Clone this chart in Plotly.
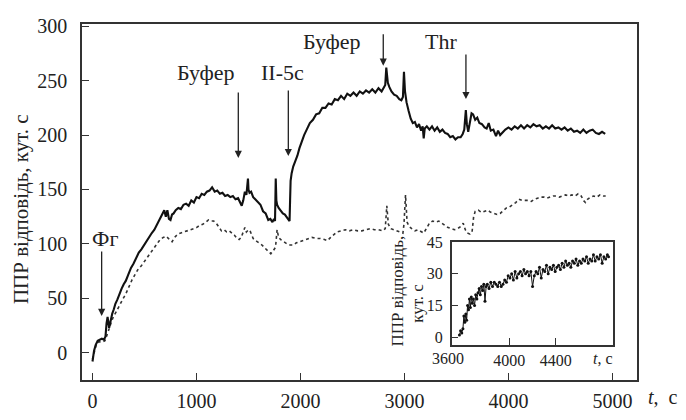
import plotly.graph_objects as go

# ---- main trace (solid) ----
t_solid = [0, 15, 30, 50, 70, 90, 110, 125, 135, 145, 160, 175, 190, 205, 220, 240, 260, 280, 300, 320,
           345, 370, 395, 420, 445, 470, 495, 520, 545, 570, 595, 620, 645, 670, 690, 705, 720, 735, 750, 765,
           780, 800, 825, 850, 875, 900, 925, 950, 975, 1000, 1025, 1050, 1075, 1100, 1125, 1150, 1175, 1200,
           1225, 1250, 1275, 1300, 1325, 1350, 1375, 1400, 1420, 1435, 1450, 1465, 1480, 1495, 1500, 1510,
           1525, 1545, 1565, 1590, 1615, 1640, 1665, 1690, 1710, 1730, 1745, 1755, 1762, 1768, 1775, 1790,
           1810, 1830, 1850, 1870, 1885, 1895, 1900, 1905, 1915, 1930, 1950, 1970, 1990, 2010, 2035, 2060,
           2090, 2120, 2150, 2180, 2210, 2240, 2270, 2300, 2330, 2360, 2390, 2420, 2450, 2480, 2510, 2540,
           2570, 2600, 2630, 2660, 2690, 2720, 2750, 2780, 2800, 2815, 2825, 2832, 2840, 2855, 2875, 2900,
           2925, 2950, 2970, 2985, 2995, 3005, 3020, 3040, 3060, 3080, 3100, 3120, 3140, 3160, 3175, 3185,
           3195, 3215, 3240, 3265, 3290, 3315, 3340, 3365, 3390, 3415, 3440, 3465, 3490, 3515, 3540, 3560,
           3575, 3590, 3600, 3613, 3630, 3645, 3660, 3680, 3700, 3720, 3745, 3770, 3790, 3810, 3830, 3855,
           3880, 3900, 3920, 3945, 3970, 4000, 4030, 4060, 4090, 4120, 4150, 4180, 4210, 4240, 4270, 4300,
           4330, 4360, 4390, 4420, 4450, 4480, 4510, 4540, 4570, 4600, 4630, 4660, 4690, 4720, 4750, 4780,
           4810, 4840, 4870, 4900, 4930]
v_solid = [-8, 2, 7, 11, 12, 13, 12, 15, 27, 33, 23, 30, 36, 40, 45, 49, 55, 59, 63, 66,
           72, 78, 82, 87, 92, 95, 99, 103, 106, 110, 113, 118, 123, 128, 131, 125, 131, 123, 122, 127,
           128, 131, 133, 132, 136, 137, 135, 140, 138, 143, 142, 146, 145, 148, 149, 152, 148, 149,
           146, 147, 144, 145, 143, 144, 141, 142, 138, 135, 140, 148, 145, 160, 150, 147,
           148, 143, 141, 138, 136, 130, 128, 122, 123, 120, 123, 121, 160, 140, 136, 133,
           130, 128, 127, 124, 123, 121, 140, 158, 165, 171, 176, 181, 188, 194, 200, 205,
           211, 214, 219, 220, 225, 225, 229, 228, 233, 232, 236, 233, 238, 236, 239, 236,
           240, 238, 241, 239, 242, 239, 243, 240, 243, 246, 262, 252, 248, 244, 240, 237,
           236, 233, 232, 235, 258, 240, 230, 222, 215, 211, 212, 207, 210, 204, 208, 197,
           206, 208, 205, 208, 204, 207, 203, 205, 202, 201, 198, 199, 196, 198, 198, 201,
           205, 223, 210, 203, 212, 220, 219, 214, 216, 211, 210, 207, 206, 211, 204, 205,
           199, 204, 200, 203, 205, 207, 205, 208, 206, 209, 206, 209, 207, 210, 208, 209,
           206, 208, 206, 209, 206, 207, 205, 207, 204, 206, 203, 204, 202, 205, 202, 204,
           205, 202, 201, 203, 201]

# ---- control trace (dotted) ----
t_dot = [0, 20, 40, 60, 80, 100, 120, 140, 160, 180, 200, 230, 260, 290, 320, 350, 380, 410, 440, 470,
         500, 530, 560, 590, 620, 650, 680, 710, 740, 765, 790, 820, 850, 880, 910, 940, 970, 1000, 1030,
         1060, 1090, 1115, 1140, 1165, 1190, 1215, 1240, 1265, 1290, 1315, 1340, 1365, 1390, 1410, 1430,
         1450, 1465, 1480, 1500, 1515, 1530, 1545, 1570, 1600, 1630, 1660, 1690, 1715, 1740, 1760, 1775,
         1790, 1810, 1840, 1870, 1900, 1930, 1960, 1990, 2030, 2070, 2110, 2150, 2190, 2230, 2260, 2290,
         2320, 2350, 2390, 2430, 2470, 2510, 2550, 2590, 2630, 2670, 2710, 2750, 2790, 2815, 2830, 2845,
         2870, 2900, 2930, 2960, 2985, 2995, 3010, 3025, 3045, 3070, 3100, 3130, 3160, 3185, 3210, 3240,
         3270, 3300, 3330, 3360, 3390, 3420, 3450, 3480, 3510, 3540, 3565, 3585, 3605, 3630, 3650, 3665,
         3680, 3710, 3740, 3770, 3800, 3830, 3860, 3890, 3920, 3950, 3980, 4010, 4040, 4070, 4100, 4130,
         4160, 4190, 4220, 4250, 4280, 4310, 4340, 4370, 4400, 4430, 4460, 4490, 4520, 4550, 4580, 4610,
         4640, 4670, 4700, 4720, 4740, 4760, 4790, 4820, 4850, 4880, 4910, 4935]
v_dot = [-6, 3, 9, 10, 10, 10, 11, 16, 22, 28, 33, 38, 44, 49, 54, 61, 67, 72, 77, 80,
         84, 87, 91, 95, 100, 104, 106, 107, 104, 102, 106, 109, 110, 111, 112, 113, 114, 115, 117,
         118, 120, 122, 121, 121, 119, 115, 112, 113, 111, 112, 110, 108, 105, 104, 106,
         112, 115, 111, 113, 112, 108, 105, 103, 101, 99, 96, 93, 91, 94, 97, 113,
         106, 104, 102, 100, 99, 99, 101, 102, 103, 105, 106, 105, 105, 104, 103, 106,
         109, 111, 112, 113, 112, 113, 112, 112, 113, 114, 113, 113, 112, 114, 135, 118,
         114, 113, 112, 111, 110, 118, 145, 120, 116, 114, 112, 113, 111, 110, 114, 119,
         121, 120, 121, 119, 117, 115, 114, 113, 114, 116, 119, 113, 110, 109, 111, 125,
         130, 131, 129, 130, 131, 129, 128, 127, 128, 131, 133, 134, 136, 138, 141, 140,
         140, 140, 139, 141, 142, 143, 143, 142, 143, 144, 144, 143, 144, 145, 144, 145,
         144, 146, 144, 140, 138, 141, 143, 144, 143, 145, 144, 144]

# ---- inset trace ----
t_in = [3570, 3580, 3590, 3600, 3608, 3616, 3625, 3632, 3640, 3648, 3656, 3664, 3672, 3680, 3690, 3700,
        3710, 3720, 3730, 3740, 3750, 3760, 3770, 3780, 3790, 3800, 3810, 3825, 3840, 3855, 3870, 3885,
        3900, 3915, 3930, 3945, 3960, 3975, 3990, 4005, 4020, 4035, 4050, 4065, 4080, 4095, 4110, 4125,
        4140, 4155, 4170, 4185, 4200, 4215, 4230, 4245, 4260, 4275, 4290, 4305, 4320, 4335, 4350, 4365,
        4380, 4395, 4410, 4425, 4440, 4455, 4470, 4485, 4500, 4515, 4530, 4545, 4560, 4575, 4590, 4605,
        4620, 4635, 4650, 4665, 4680, 4695, 4710, 4725, 4740, 4755, 4770, 4785, 4800, 4815, 4830, 4845,
        4855]
v_in = [1, 3, 2, 4, 10, 7, 11, 8, 15, 13, 18, 14, 19, 16, 18, 15,
        20, 18, 21, 23, 20, 24, 22, 25, 17, 24, 25, 23, 26, 24, 26, 25,
        24, 26, 24, 25, 27, 26, 29, 28, 30, 27, 31, 28, 30, 31, 29, 32,
        30, 31, 29, 31, 24, 29, 31, 30, 33, 28, 32, 31, 34, 30, 33, 32,
        34, 31, 33, 34, 32, 35, 33, 36, 34, 35, 33, 36, 35, 37, 34, 36,
        35, 37, 36, 38, 35, 37, 36, 39, 36, 38, 37, 39, 35, 38, 37, 39,
        38]

main_xticks = [0, 1000, 2000, 3000, 4000, 5000]
main_yticks = [0, 50, 100, 150, 200, 250, 300]
inset_xticks = [4000, 4400]
inset_yticks = [0, 15, 30, 45]

FONT = "Liberation Serif, DejaVu Serif, serif"
INK = "#222"

fig = go.Figure()
fig.add_trace(go.Scatter(x=t_dot, y=v_dot, mode="lines",
                         line=dict(color="#333", width=1.6, dash="dot"), xaxis="x", yaxis="y"))
fig.add_trace(go.Scatter(x=t_solid, y=v_solid, mode="lines",
                         line=dict(color="#111", width=2.1), xaxis="x", yaxis="y"))
fig.add_trace(go.Scatter(x=t_in, y=v_in, mode="lines+markers",
                         line=dict(color="#111", width=1), marker=dict(size=3, color="#111"),
                         xaxis="x2", yaxis="y2"))

axis_common = dict(showgrid=False, zeroline=False, showline=True, linecolor="#333", linewidth=1.5,
                   mirror=True, ticks="inside", tickcolor="#333", tickwidth=1.3)

# the page body has an 8px default margin, so the figure is 8px smaller and margins compensate
fig.update_layout(
    width=678, height=412,
    margin=dict(l=74, r=49, t=8, b=30),
    paper_bgcolor="white", plot_bgcolor="white",
    showlegend=False,
    font=dict(family=FONT, color=INK),
    xaxis=dict(range=[-101, 5236], tickvals=main_xticks, ticklen=7, ticklabelstandoff=2,
               tickfont=dict(size=20, family=FONT, color=INK), **axis_common),
    yaxis=dict(range=[-25, 302], tickvals=main_yticks, ticklen=7, ticklabelstandoff=9,
               tickfont=dict(size=20, family=FONT, color=INK), **axis_common),
    xaxis2=dict(domain=[0.6661, 0.9573], anchor="y2", range=[3503, 4896], tickvals=inset_xticks,
                ticklen=7, tickfont=dict(size=16, family=FONT, color=INK), **axis_common),
    yaxis2=dict(domain=[0.0981, 0.3877], anchor="x2", range=[-3.75, 45], tickvals=inset_yticks,
                ticklen=7, ticklabelstandoff=4, tickfont=dict(size=16, family=FONT, color=INK),
                **axis_common),
)

ann = []
# axis titles
ann.append(dict(text="ППР відповідь, кут. с", xref="paper", yref="paper", x=(21 - 82) / 555, y=0.48,
                textangle=-90, showarrow=False, font=dict(size=21, family=FONT, color=INK),
                xanchor="center", yanchor="middle"))
ann.append(dict(text="<i>t</i>,&nbsp;&nbsp;c", xref="paper", yref="paper", x=(680 - 82) / 555,
                y=(390 - 408) / 374, showarrow=False, font=dict(size=20, family=FONT, color=INK),
                xanchor="right", yanchor="middle"))
# inset labels
ann.append(dict(text="ППР відповідь,", xref="paper", yref="paper", x=(397 - 82) / 555, y=(390 - 297) / 374,
                textangle=-90, showarrow=False, font=dict(size=17, family=FONT, color=INK),
                xanchor="center", yanchor="middle"))
ann.append(dict(text="кут. с", xref="paper", yref="paper", x=(418 - 82) / 555, y=(390 - 310) / 374,
                textangle=-90, showarrow=False, font=dict(size=17, family=FONT, color=INK),
                xanchor="center", yanchor="middle"))
ann.append(dict(text="3600", xref="paper", yref="paper", x=(448 - 82) / 555, y=(390 - 367) / 374,
                showarrow=False, font=dict(size=16, family=FONT, color=INK),
                xanchor="center", yanchor="middle"))
ann.append(dict(text="<i>t</i>,&nbsp;c", xref="paper", yref="paper", x=(603 - 82) / 555, y=(390 - 367) / 374,
                showarrow=False, font=dict(size=16, family=FONT, color=INK),
                xanchor="center", yanchor="middle"))

# event labels and arrows
labels = ["Фг", "Буфер", "II-5c", "Буфер", "Thr"]
label_x = [120, 1091, 1827, 2300, 3348]
label_y = [105, 257.5, 257.5, 285.5, 285.5]
arrow_x = [88, 1402, 1883, 2796, 3591]
arrow_y = [33.8, 179, 180.7, 263.7, 233]
arrow_len = [66, 67, 67, 33, 46]
for txt, lx, ly in zip(labels, label_x, label_y):
    ann.append(dict(text=txt, x=lx, y=ly, xref="x", yref="y", showarrow=False,
                    font=dict(size=22, family=FONT, color=INK), xanchor="center", yanchor="middle"))
for axx, ayy, L in zip(arrow_x, arrow_y, arrow_len):
    ann.append(dict(text="", x=axx, y=ayy, xref="x", yref="y", showarrow=True,
                    ax=0, ay=-L, arrowhead=2, arrowsize=1.1, arrowwidth=1.3, arrowcolor="#222",
                    standoff=0))
fig.update_layout(annotations=ann)

fig.write_html("out.html")
